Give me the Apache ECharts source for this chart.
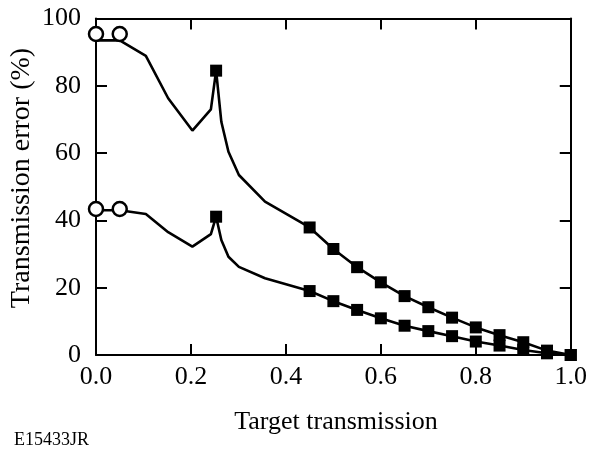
<!DOCTYPE html>
<html>
<head>
<meta charset="utf-8">
<script src="https://cdn.jsdelivr.net/npm/echarts@6/dist/echarts.min.js"></script>
<style>
  html, body { margin: 0; padding: 0; background: #fff; }
  #chart { width: 590px; height: 451px; }
</style>
</head>
<body>
<div id="chart"></div>
<script>
// Target transmission values along the traced curve (before the measured squares)
const curveX = [0, 0.05, 0.105, 0.152, 0.203, 0.242, 0.253, 0.264, 0.279, 0.301, 0.356];
const upperCurveY = [93.5, 93.5, 88.9, 76.3, 66.7, 73.0, 84.5, 69.3, 60.4, 53.5, 45.6];
const lowerCurveY = [43.0, 43.0, 41.9, 36.5, 32.2, 35.9, 41.1, 34.2, 29.2, 26.2, 22.8];

// Measured points (filled squares)
const squareX = [0.45, 0.50, 0.55, 0.60, 0.65, 0.70, 0.75, 0.80, 0.85, 0.90, 0.95, 1.0];
const upperSquareY = [37.9, 31.5, 26.1, 21.6, 17.5, 14.2, 11.1, 8.2, 5.9, 3.8, 1.3, 0];
const lowerSquareY = [19.0, 16.0, 13.4, 10.9, 8.7, 7.1, 5.6, 4.0, 2.8, 1.5, 0.5, 0];

// Isolated peak points
const peakX = [0.253];
const upperPeakY = [84.5];
const lowerPeakY = [41.1];

// Open circles at low transmission
const circleX = [0, 0.05];
const upperCircleY = [95.4, 95.4];
const lowerCircleY = [43.4, 43.4];

const xTicks = [0, 0.2, 0.4, 0.6, 0.8, 1.0];
const yTicks = [0, 20, 40, 60, 80, 100];

const FONT = "'Liberation Serif', 'DejaVu Serif', serif";

function pairs(xs, ys) { return xs.map((x, i) => [x, ys[i]]); }

const upperLine = pairs(curveX, upperCurveY).concat(pairs(squareX, upperSquareY));
const lowerLine = pairs(curveX, lowerCurveY).concat(pairs(squareX, lowerSquareY));

const chart = echarts.init(document.getElementById('chart'), null, { renderer: 'canvas' });

const axisLine = { show: true, onZero: false, lineStyle: { color: '#000', width: 2 } };
const axisTick = { show: true, inside: true, length: 11, lineStyle: { color: '#000', width: 2 } };

const lineStyle = { color: '#000', width: 2.6 };

chart.setOption({
  animation: false,
  backgroundColor: '#fff',
  grid: { left: 96, right: 14, top: 18.5, bottom: 96, containLabel: false },
  xAxis: [
    {
      type: 'value', min: xTicks[0], max: xTicks[xTicks.length - 1], interval: 0.2,
      axisLine, axisTick, splitLine: { show: false },
      axisLabel: { color: '#000', fontFamily: FONT, fontSize: 26, margin: 9,
        formatter: v => v.toFixed(1) }
    },
    {
      type: 'value', position: 'top', min: 0, max: 1, interval: 0.2,
      axisLine, axisTick, splitLine: { show: false }, axisLabel: { show: false }
    }
  ],
  yAxis: [
    {
      type: 'value', min: yTicks[0], max: yTicks[yTicks.length - 1], interval: 20,
      axisLine, axisTick, splitLine: { show: false },
      axisLabel: { color: '#000', fontFamily: FONT, fontSize: 26, margin: 15 }
    },
    {
      type: 'value', position: 'right', min: 0, max: 100, interval: 20,
      axisLine, axisTick, splitLine: { show: false }, axisLabel: { show: false }
    }
  ],
  series: [
    { type: 'line', data: upperLine, showSymbol: false, symbol: 'none', lineStyle, z: 2 },
    { type: 'line', data: lowerLine, showSymbol: false, symbol: 'none', lineStyle, z: 2 },
    {
      type: 'scatter', data: pairs(squareX, upperSquareY).concat(pairs(peakX, upperPeakY)),
      symbol: 'rect', symbolSize: 12, itemStyle: { color: '#000', opacity: 1 }, z: 3
    },
    {
      type: 'scatter', data: pairs(squareX, lowerSquareY).concat(pairs(peakX, lowerPeakY)),
      symbol: 'rect', symbolSize: 12, itemStyle: { color: '#000', opacity: 1 }, z: 3
    },
    {
      type: 'scatter', data: pairs(circleX, upperCircleY).concat(pairs(circleX, lowerCircleY)),
      symbol: 'circle', symbolSize: 14,
      itemStyle: { color: '#fff', borderColor: '#000', borderWidth: 2.5, opacity: 1 }, z: 4
    }
  ],
  graphic: [
    {
      type: 'text', x: 22, y: 178, rotation: Math.PI / 2,
      style: { text: 'Transmission error (%)', fill: '#000', font: '28px ' + FONT,
        align: 'center', verticalAlign: 'middle' }
    },
    {
      type: 'text', x: 336, y: 422,
      style: { text: 'Target transmission', fill: '#000', font: '26px ' + FONT,
        align: 'center', verticalAlign: 'middle' }
    },
    {
      type: 'text', x: 14, y: 440,
      style: { text: 'E15433JR', fill: '#000', font: '18px ' + FONT,
        align: 'left', verticalAlign: 'middle' }
    }
  ]
});
</script>
</body>
</html>
